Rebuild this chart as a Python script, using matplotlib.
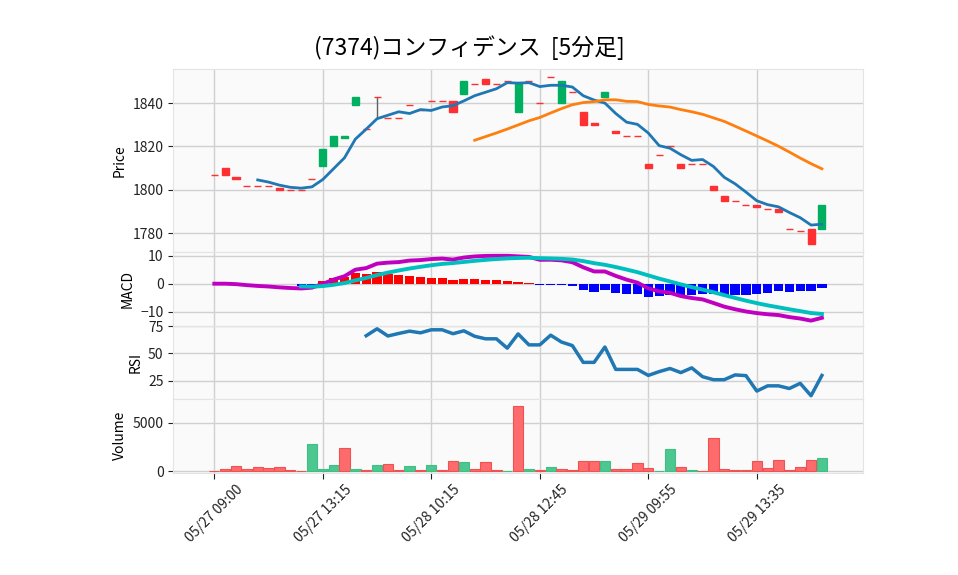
import numpy as np
import pandas as pd
import matplotlib
matplotlib.use("Agg")
import matplotlib.pyplot as plt

plt.rcParams['font.family'] = ['Noto Sans CJK JP', 'DejaVu Sans']

title = "(7374)コンフィデンス  [5分足]"
tick_labels = ["05/27 09:00", "05/27 13:15", "05/28 10:15",
               "05/28 12:45", "05/29 09:55", "05/29 13:35"]

# 5-minute bars
opens = [1807, 1810, 1806, 1802, 1802, 1802, 1801, 1800, 1800, 1805,
         1811, 1820, 1824, 1839, 1828, 1843, 1833, 1833, 1839, 1837,
         1841, 1841, 1841, 1844, 1849, 1851, 1849, 1850, 1836, 1850,
         1840, 1852, 1840, 1845, 1836, 1831, 1843, 1827, 1825, 1825,
         1812, 1816, 1820, 1812, 1812, 1812, 1802, 1797, 1795, 1793,
         1793, 1791, 1791, 1782, 1781, 1782, 1782]
closes = [1807, 1807, 1805, 1802, 1802, 1802, 1800, 1800, 1800, 1805,
          1819, 1825, 1825, 1843, 1828, 1843, 1833, 1833, 1839, 1837,
          1841, 1841, 1836, 1850, 1849, 1849, 1849, 1850, 1849, 1850,
          1840, 1852, 1850, 1845, 1830, 1830, 1845, 1826, 1825, 1825,
          1810, 1816, 1820, 1810, 1812, 1812, 1800, 1795, 1795, 1793,
          1792, 1791, 1790, 1782, 1781, 1775, 1793]
highs = [max(o, c) for o, c in zip(opens, closes)]
lows = [min(o, c) for o, c in zip(opens, closes)]
lows[15] = 1833
volumes = [0, 240, 540, 170, 440, 340, 440, 70, 30, 2800,
           170, 575, 2400, 170, 70, 575, 675, 70, 470, 70,
           575, 70, 1080, 980, 170, 980, 70, 0, 6750, 170,
           70, 370, 170, 70, 1080, 1080, 1080, 240, 240, 780,
           340, 0, 2300, 440, 70, 0, 3380, 170, 70, 70,
           1080, 270, 1180, 70, 440, 1180, 1390]

df = pd.DataFrame({"Open": opens, "High": highs, "Low": lows,
                   "Close": closes, "Volume": volumes})
x = np.arange(len(df))
close = df["Close"]

# indicators
ma5 = close.rolling(5).mean()
ma25 = close.rolling(25).mean()
macd = close.ewm(span=12, adjust=False).mean() - close.ewm(span=26, adjust=False).mean()
signal = macd.ewm(span=9, adjust=False).mean()
signal[:8] = np.nan
hist = macd - signal
delta = close.diff()
gain = delta.clip(lower=0).rolling(14).mean()
loss = (-delta.clip(upper=0)).rolling(14).mean()
rsi = 100 * gain / (gain + loss)

# figure / panels
W, H = 958, 575
fig = plt.figure(figsize=(W / 100, H / 100), dpi=100)
left, right = 173.3, 862.7


def panel(top, bottom):
    return fig.add_axes([left / W, 1 - bottom / H, (right - left) / W, (bottom - top) / H])


ax_p = panel(69, 252.2)
ax_m = panel(252.2, 325.5)
ax_r = panel(325.5, 398.8)
ax_v = panel(398.8, 472.5)
axes = [ax_p, ax_m, ax_r, ax_v]

for ax in axes:
    ax.set_facecolor('#fafafa')
    ax.grid(True, color='#d0d0d0', linewidth=1.0)
    ax.set_axisbelow(True)
    for s in ax.spines.values():
        s.set_color('#e4e4e4')
    ax.set_xlim(-3.78, 59.76)
    ax.set_xticks(x[::10])
    ax.tick_params(axis='y', labelsize=10, colors='#222222')
    ax.tick_params(axis='x', length=0, labelbottom=False)

# candles
up = df["Close"] > df["Open"]
ccol = np.where(up, '#00b060', '#fe3032')
ax_p.vlines(x, df["Low"], df["High"], color='#606060', linewidth=1.0)
ax_p.bar(x, df["Close"] - df["Open"], bottom=df["Open"], width=0.65,
         color=ccol, edgecolor=ccol, linewidth=1.0, zorder=3)
ax_p.plot(x, ma5, color='#1f77b4', linewidth=2.0, zorder=4)
ax_p.plot(x, ma25, color='#ff7f0e', linewidth=2.0, zorder=4)
ax_p.set_ylim(1771.3, 1855.7)
ax_p.set_yticks([1780, 1800, 1820, 1840])
ax_p.set_ylabel("Price", fontsize=10)

# MACD
hcol = np.where(hist >= 0, '#ff0000', '#0000ff')
ax_m.bar(x, hist, width=0.85, color=hcol, zorder=2)
ax_m.plot(x, macd, color='#bf00bf', linewidth=2.8, zorder=3)
ax_m.plot(x, signal, color='#00bfbf', linewidth=2.8, zorder=4)
ax_m.set_ylim(-15.0, 11.3)
ax_m.set_yticks([-10, 0, 10])
ax_m.set_ylabel("MACD", fontsize=10)

# RSI
ax_r.plot(x, rsi, color='#1f77b4', linewidth=2.5)
ax_r.set_ylim(8.5, 75.5)
ax_r.set_yticks([25, 50, 75])
ax_r.set_ylabel("RSI", fontsize=10)

# volume, coloured by close vs previous close
vup = close.diff().fillna(0) > 0
vcol = np.where(vup, '#4dc790', '#fd6b6c')
vedge = np.where(vup, '#3fbf85', '#f05252')
ax_v.bar(x, df["Volume"], width=0.95, color=vcol, edgecolor=vedge, linewidth=0.8)
ax_v.set_ylim(-150, 7450)
ax_v.set_yticks([0, 5000])
ax_v.set_ylabel("Volume", fontsize=10)
ax_v.tick_params(axis='x', length=4, labelbottom=True, labelsize=10, colors='#222222')
ax_v.set_xticklabels(tick_labels, rotation=45, ha='center')

fig.suptitle(title, x=0.49, y=0.938, fontsize=16.5)

fig.savefig("out.png", dpi=100)
